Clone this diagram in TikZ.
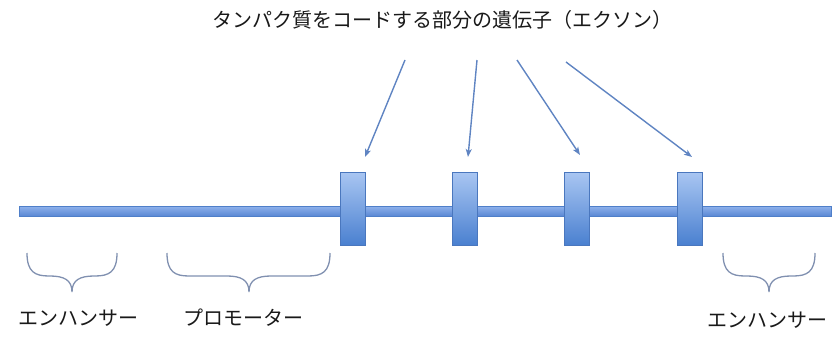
\documentclass[tikz,border=0pt]{standalone}
\usepackage{fontspec}
\newfontfamily\jp{Noto Sans CJK JP}
\usetikzlibrary{arrows.meta}
\definecolor{barline}{HTML}{4F7FC9}
\definecolor{bartop}{HTML}{8FB2EC}
\definecolor{barbot}{HTML}{5A88D4}
\definecolor{boxline}{HTML}{4A77BE}
\definecolor{boxtop}{HTML}{A9C6F2}
\definecolor{boxbot}{HTML}{4A80D0}
\definecolor{arrowc}{HTML}{5F84C2}
\definecolor{bracec}{HTML}{8090B0}
\tikzset{
  lbl/.style={font=\jp\fontsize{20}{20}\selectfont, text=black!90, inner sep=0pt},
  exon/.style={draw=boxline, line width=0.8pt, top color=boxtop, bottom color=boxbot, minimum width=25pt, minimum height=73pt, inner sep=0pt},
  bar/.style={draw=barline, line width=0.9pt, top color=bartop, bottom color=barbot},
  ptr/.style={draw=arrowc, line width=1.4pt, -{Stealth[length=8pt,width=6pt,inset=2pt]}},
  brc/.style={draw=bracec, line width=1.3pt},
}
\begin{document}
\begin{tikzpicture}[x=1pt,y=-1pt]
\useasboundingbox (0,0) rectangle (837,343);
% DNA bar
\path[bar] (19,206) rectangle (831,216);
% exons
\node[exon] (e1) at (352.5,208.5) {};
\node[exon] (e2) at (464.5,208.5) {};
\node[exon] (e3) at (577,208.5) {};
\node[exon] (e4) at (689.5,208.5) {};
% title
\node[lbl] (title) at (442,20) {タンパク質をコードする部分の遺伝子（エクソン）};
% arrow coordinates
\coordinate (s1) at (405,60);
\coordinate (s2) at (477,60);
\coordinate (s3) at (517,60);
\coordinate (s4) at (566,62);
\coordinate (t1) at (365,157);
\coordinate (t2) at (468,157);
\coordinate (t3) at (580,155);
\coordinate (t4) at (692,157);
\draw[ptr] (s1) -- (t1);
\draw[ptr] (s2) -- (t2);
\draw[ptr] (s3) -- (t3);
\draw[ptr] (s4) -- (t4);
% braces
\newcommand{\downbrace}[3]{% left, mid, right
  \draw[brc] (#1,253) .. controls (#1,272) and (#1+8,276) .. (#1+22,276)
    -- (#2-22,276) .. controls (#2-8,276) and (#2,280) .. (#2,292)
    .. controls (#2,280) and (#2+8,276) .. (#2+22,276)
    -- (#3-22,276) .. controls (#3-8,276) and (#3,272) .. (#3,253);}
\downbrace{27}{72}{117}
\downbrace{167}{249}{330}
\downbrace{723}{769}{815}
% labels
\node[lbl] (enh1) at (78,318) {エンハンサー};
\node[lbl] (prom) at (243,318) {プロモーター};
\node[lbl] (enh2) at (767,320) {エンハンサー};
\end{tikzpicture}
\end{document}
